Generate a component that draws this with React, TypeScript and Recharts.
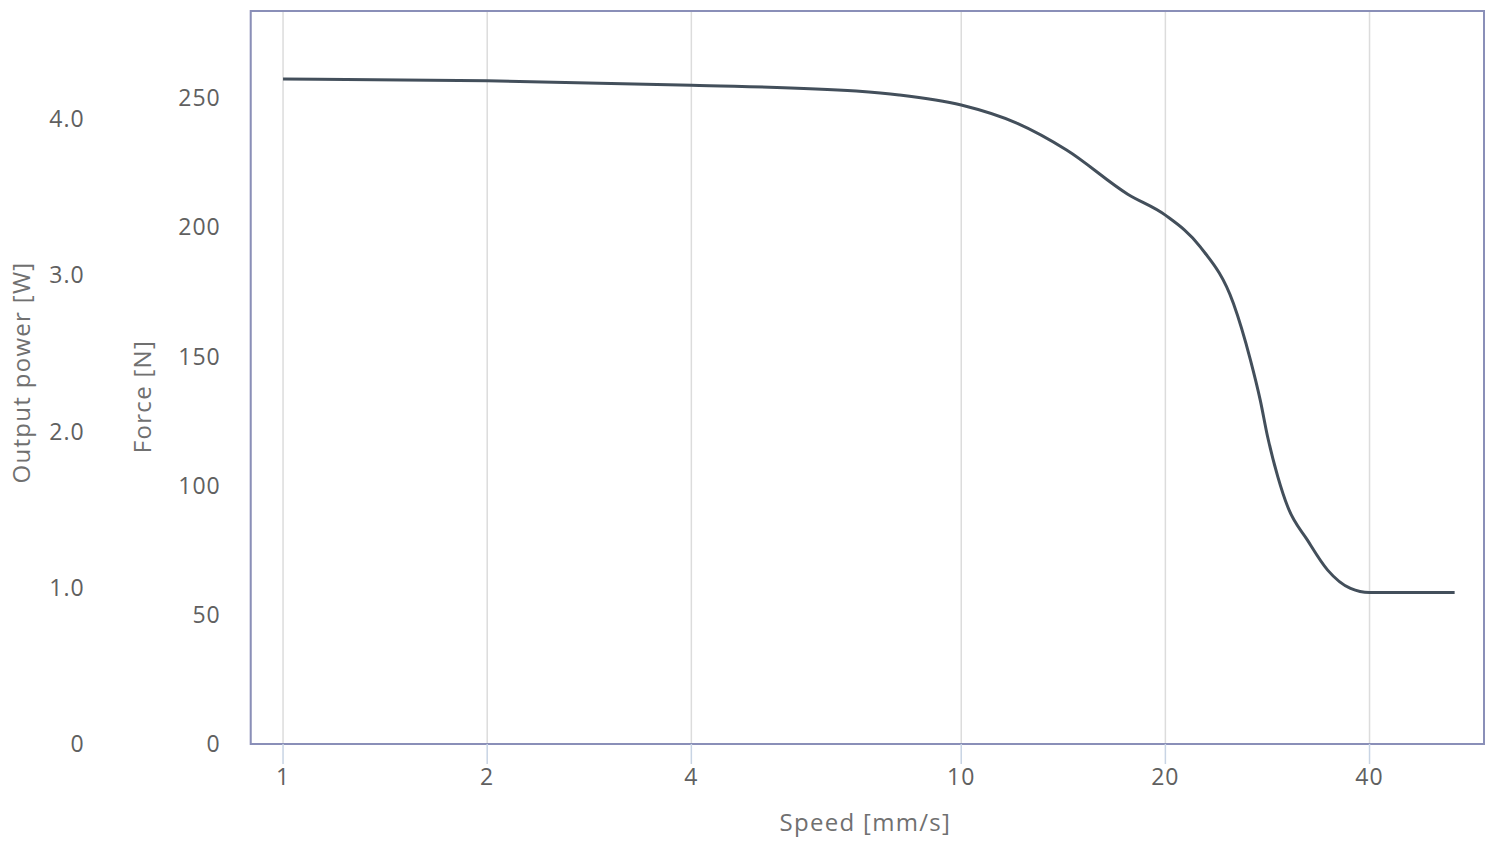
import React from "react";
import { LineChart, Line, XAxis, YAxis, CartesianGrid, ReferenceArea } from "recharts";

// force curve (speed in mm/s, force in N)
const speeds = [1, 2, 4, 7, 8.1, 10, 12.1, 14.3, 17.6, 20, 22.5, 25.2, 26.7, 27.6, 28.3, 29.3, 30.3, 32.4, 34.7, 37.5, 40, 53.4];
const forces = [257.4, 256.7, 255, 252.7, 251.2, 247.3, 240.2, 229.9, 212.8, 204.7, 192.5, 170.5, 148.6, 133.1, 118.9, 103.4, 91.8, 78.9, 67.3, 60.2, 58.6, 58.6];

const speedTicks = [1, 2, 4, 10, 20, 40];
const forceTicks = [0, 50, 100, 150, 200, 250];
const powerTicks = [0, 1, 2, 3, 4];

const speedDomain = [0.896, 59];
const forceDomain = [0, 283.7];
const powerDomain = [0, 4.69];

const rows = speeds.map((s, i) => ({ speed: s, force: forces[i] }));

const FONT = '"Open Sans", "Noto Sans", sans-serif';
const FRAME = "#8a8fb8";
const TICK = { fill: "#606060", fontSize: 23, fontFamily: FONT, letterSpacing: 1 };

const vTitle = (text: string, dx: number, dy: number) => (props: any) => {
  const vb = props.viewBox;
  const x = vb.x + dx;
  const y = vb.y + vb.height / 2 + dy;
  return (
    <text x={x} y={y} transform={`rotate(-90, ${x}, ${y})`} textAnchor="middle" dominantBaseline="central"
      fill="#707070" fontSize={24} letterSpacing={1.3} fontFamily={FONT}>{text}</text>
  );
};

const xTitle = (props: any) => {
  const vb = props.viewBox;
  return (
    <text x={vb.x + vb.width / 2 - 2} y={vb.y + 77} textAnchor="middle" dominantBaseline="central"
      fill="#707070" fontSize={24} letterSpacing={1.3} fontFamily={FONT}>Speed [mm/s]</text>
  );
};

export default function App() {
  return (
    <div style={{ position: "absolute", left: 0, top: 0, width: 1500, height: 844, background: "#fff" }}>
      <LineChart width={1500} height={844} data={rows} margin={{ top: 11, right: 16, left: 0, bottom: 0 }}>
        <CartesianGrid horizontal={false} stroke="#dcdcdc" strokeWidth={1.5} yAxisId="force" />
        <XAxis dataKey="speed" type="number" scale="log" domain={speedDomain} ticks={speedTicks}
          allowDataOverflow height={100} tick={TICK} tickSize={20} tickMargin={5}
          tickLine={{ stroke: "#c8d4e4", strokeWidth: 1.5 }} axisLine={{ stroke: FRAME, strokeWidth: 2 }}
          label={{ content: xTitle }} />
        <YAxis yAxisId="force" orientation="left" width={140} domain={forceDomain} ticks={forceTicks}
          type="number" allowDataOverflow axisLine={false} tickLine={false} tickSize={0} tickMargin={30}
          tick={TICK} label={{ content: vTitle("Force [N]", 31, 19) }} />
        <YAxis yAxisId="power" orientation="left" width={110.7} domain={powerDomain} ticks={powerTicks}
          type="number" allowDataOverflow axisLine={false} tickLine={false} tickSize={0} tickMargin={26}
          tick={TICK} tickFormatter={(v: number) => (v === 0 ? "0" : v.toFixed(1))}
          label={{ content: vTitle("Output power [W]", 20, -5) }} />
        <ReferenceArea yAxisId="force" x1={speedDomain[0]} x2={speedDomain[1]} y1={forceDomain[0]} y2={forceDomain[1]}
          fill="none" stroke={FRAME} strokeWidth={2} ifOverflow="visible" />
        <Line yAxisId="force" type="monotone" dataKey="force" stroke="#434f5b" strokeWidth={3} dot={false}
          isAnimationActive={false} />
      </LineChart>
    </div>
  );
}
